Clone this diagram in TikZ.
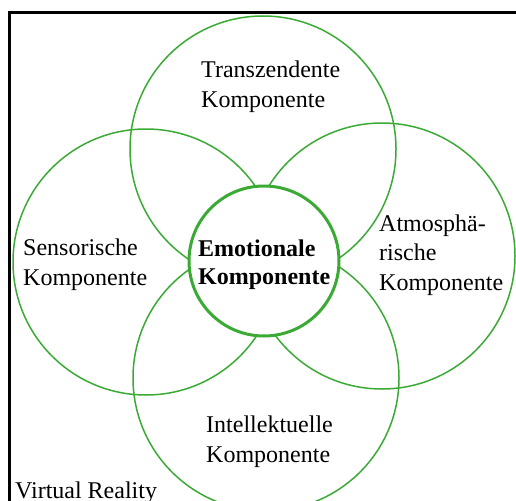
\documentclass[tikz,border=0pt]{standalone}
\usepackage{fontspec}
\setmainfont{Liberation Serif}
\definecolor{kgreen}{RGB}{58,170,53}
\tikzset{
  ring/.style={circle,draw=kgreen,line width=1.5pt,minimum size=266pt,inner sep=0pt},
  lbl/.style={align=left,anchor=base west,inner sep=0pt,font=\fontsize{24}{29.5}\selectfont}
}

\begin{document}
\begin{tikzpicture}[x=1pt,y=-1pt]
	\useasboundingbox (0,0) rectangle (516,500);
	\clip (0,0) rectangle (516,500);
	\draw[line width=3pt] (540,13) -- (9,13) -- (9,540);

	\node[ring] (T) at (263,149) {};
	\node[ring] (S) at (146,262) {};
	\node[ring] (A) at (382,256) {};
	\node[ring] (I) at (266,378) {};
	\node[circle,draw=kgreen,fill=white,line width=3pt,minimum size=150pt,inner sep=0pt] (E) at (264,261) {};

	% base anchor sits on the last line
	\node[lbl] (tT) at (201,107) {Transzendente\\Komponente};
	\node[lbl] (tS) at (23,285)  {Sensorische\\Komponente};
	\node[lbl] (tA) at (379,290) {Atmosphä-\\rische\\Komponente};
	\node[lbl] (tI) at (206,462) {Intellektuelle\\Komponente};
	\node[lbl,font=\fontsize{24}{28}\selectfont\bfseries] (tE) at (198,284) {Emotionale\\Komponente};
	\node[lbl] (tV) at (15,498) {Virtual Reality};
\end{tikzpicture}
\end{document}
